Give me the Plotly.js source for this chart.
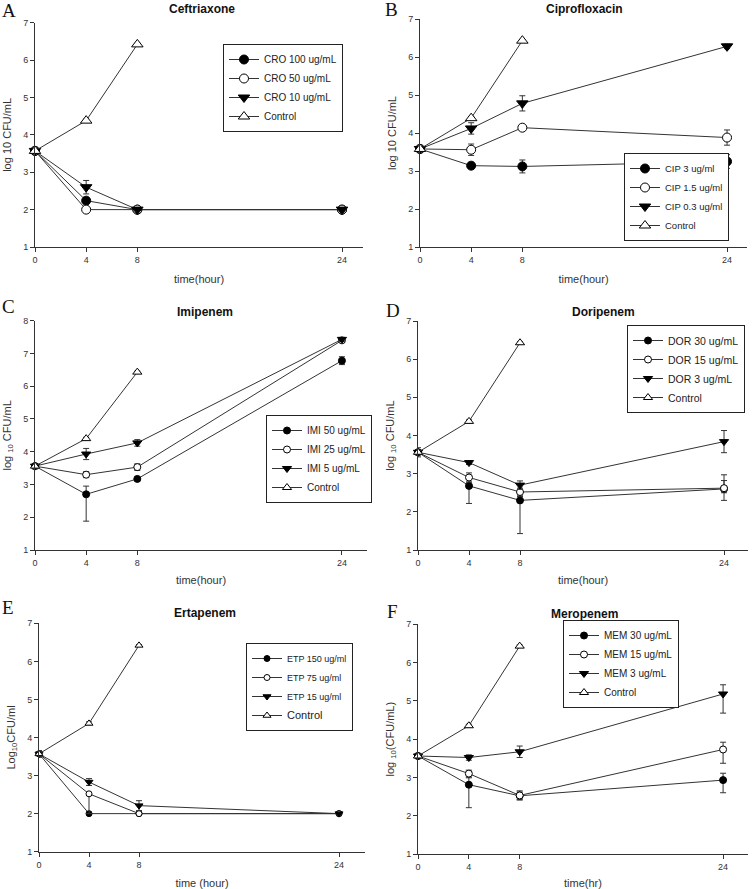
<!DOCTYPE html>
<html>
<head>
<meta charset="utf-8">
<script src="https://cdn.plot.ly/plotly-3.0.1.min.js"></script>
<style>html,body{margin:0;padding:0;background:#fff;}#chart{width:754px;height:889px;}</style>
</head>
<body>
<div id="chart"></div>
<script>
// ---------- data ----------
const timeDrug = [0, 4, 8, 24];
const timeCtrl = [0, 4, 8];
const xTicks = [0, 4, 8, 24];

// A: Ceftriaxone
const croNames = ['CRO 100 ug/mL', 'CRO 50 ug/mL', 'CRO 10 ug/mL', 'Control'];
const cro100 = [3.57, 2.24, 2.0, 2.0];
const cro100Err = [0.05, 0.08, 0, 0];
const cro50 = [3.57, 2.0, 2.0, 2.0];
const cro50Err = [0.05, 0, 0, 0];
const cro10 = [3.57, 2.60, 2.0, 2.0];
const cro10Err = [0.05, 0.18, 0, 0];
const ctrlA = [3.57, 4.38, 6.42];
const ctrlAErr = [0.05, 0.04, 0.03];

// B: Ciprofloxacin
const cipNames = ['CIP 3 ug/ml', 'CIP 1.5 ug/ml', 'CIP 0.3 ug/ml', 'Control'];
const cip3 = [3.58, 3.14, 3.12, 3.25];
const cip3Err = [0.05, 0.06, 0.17, 0.18];
const cip15 = [3.58, 3.56, 4.14, 3.88];
const cip15Err = [0.05, 0.15, 0.06, 0.2];
const cip03 = [3.58, 4.12, 4.78, 6.28];
const cip03Err = [0.05, 0.15, 0.2, 0.06];
const ctrlB = [3.58, 4.39, 6.43];
const ctrlBErr = [0.05, 0.04, 0.03];

// C: Imipenem
const imiNames = ['IMI 50 ug/mL', 'IMI 25 ug/mL', 'IMI 5 ug/mL', 'Control'];
const imi50 = [3.56, 2.70, 3.17, 6.78];
const imi50Plus = [0.05, 0.25, 0.05, 0.12];
const imi50Minus = [0.05, 0.82, 0.05, 0.12];
const imi25 = [3.56, 3.30, 3.53, 7.40];
const imi25Err = [0.05, 0.09, 0.1, 0.05];
const imi5 = [3.56, 3.93, 4.27, 7.43];
const imi5Err = [0.05, 0.17, 0.1, 0.06];
const ctrlC = [3.56, 4.40, 6.43];
const ctrlCErr = [0.05, 0.04, 0.03];

// D: Doripenem
const dorNames = ['DOR 30 ug/mL', 'DOR 15 ug/mL', 'DOR 3 ug/mL', 'Control'];
const dor30 = [3.56, 2.68, 2.30, 2.60];
const dor30Plus = [0.12, 0.1, 0.1, 0.22];
const dor30Minus = [0.12, 0.46, 0.87, 0.1];
const dor15 = [3.56, 2.90, 2.52, 2.62];
const dor15Plus = [0.05, 0.12, 0.1, 0.35];
const dor15Minus = [0.05, 0.12, 0.1, 0.32];
const dor3 = [3.56, 3.29, 2.70, 3.84];
const dor3Err = [0.05, 0.05, 0.11, 0.29];
const ctrlD = [3.56, 4.37, 6.43];
const ctrlDErr = [0.05, 0.04, 0.03];

// E: Ertapenem
const etpNames = ['ETP 150 ug/ml', 'ETP 75 ug/ml', 'ETP 15 ug/ml', 'Control'];
const etp150 = [3.57, 2.0, 2.0, 2.0];
const etp150Err = [0.08, 0, 0, 0];
const etp75 = [3.57, 2.52, 2.0, 2.0];
const etp75Plus = [0.08, 0, 0, 0];
const etp75Minus = [0.08, 0.52, 0, 0];
const etp15 = [3.57, 2.83, 2.21, 2.0];
const etp15Err = [0.08, 0.09, 0.13, 0];
const ctrlE = [3.57, 4.37, 6.42];
const ctrlEErr = [0.08, 0.04, 0.02];

// F: Meropenem
const memNames = ['MEM 30 ug/mL', 'MEM 15 ug/mL', 'MEM 3 ug/mL', 'Control'];
const mem30 = [3.56, 2.81, 2.52, 2.93];
const mem30Plus = [0.05, 0.18, 0.1, 0.18];
const mem30Minus = [0.05, 0.6, 0.1, 0.33];
const mem15 = [3.56, 3.10, 2.53, 3.73];
const mem15Plus = [0.05, 0.09, 0.12, 0.19];
const mem15Minus = [0.05, 0.09, 0.12, 0.36];
const mem3 = [3.56, 3.52, 3.67, 5.18];
const mem3Plus = [0.05, 0.07, 0.15, 0.24];
const mem3Minus = [0.05, 0.07, 0.15, 0.5];
const ctrlF = [3.56, 4.35, 6.43];
const ctrlFErr = [0.05, 0.04, 0.03];

const panelTitles = ['Ceftriaxone', 'Ciprofloxacin', 'Imipenem', 'Doripenem', 'Ertapenem', 'Meropenem'];
const panelLetters = ['A', 'B', 'C', 'D', 'E', 'F'];
const xTitles = ['time(hour)', 'time(hour)', 'time(hour)', 'time(hour)', 'time (hour)', 'time(hr)'];
const yTitles = ['log 10 CFU/mL', 'log 10 CFU/mL', 'log <sub>10</sub> CFU/mL', 'log <sub>10</sub> CFU/mL', 'Log<sub>10</sub>CFU/ml', 'log <sub>10</sub>(CFU/mL)'];

// ---------- layout geometry (pixels) ----------
const W = 754, H = 889;
const FONT = 'Liberation Sans, Arial, Helvetica, sans-serif';
const geo = [
  {x0: 35, x1: 363, ytop: 22.7, ybot: 247, xmax: 25.64, ymax: 7, msize: 9, leg: [223, 44], legFont: 10, title: [202, 9], letter: [9, 11], xstand: 11, ystand: 9},
  {x0: 420, x1: 747, ytop: 19, ybot: 247, xmax: 25.56, ymax: 7, msize: 9, leg: [624, 153], legFont: 9.5, title: [584, 9], letter: [391, 10], xstand: 11, ystand: 9},
  {x0: 35, x1: 367, ytop: 320.7, ybot: 550, xmax: 25.96, ymax: 8, msize: 7, leg: [266, 415], legFont: 10, title: [205, 312], letter: [8, 306], xstand: 9, ystand: 9},
  {x0: 418, x1: 748, ytop: 321, ybot: 550, xmax: 25.88, ymax: 7, msize: 7, leg: [627, 325], legFont: 10.5, title: [603, 312], letter: [393, 310], xstand: 9, ystand: 9},
  {x0: 39, x1: 365, ytop: 623.3, ybot: 851.7, xmax: 26.08, ymax: 7, msize: 6, leg: [246, 643], legFont: 9, title: [205, 613], letter: [8, 607], xstand: 10, ystand: 9},
  {x0: 418, x1: 748, ytop: 624.3, ybot: 854, xmax: 25.96, ymax: 7, msize: 7, leg: [563, 620], legFont: 10, title: [584, 614], letter: [392, 611], xstand: 8, ystand: 9}
];

const series = [
  {names: croNames, ys: [cro100, cro50, cro10, ctrlA], plus: [cro100Err, cro50Err, cro10Err, ctrlAErr], minus: [cro100Err, cro50Err, cro10Err, ctrlAErr]},
  {names: cipNames, ys: [cip3, cip15, cip03, ctrlB], plus: [cip3Err, cip15Err, cip03Err, ctrlBErr], minus: [cip3Err, cip15Err, cip03Err, ctrlBErr]},
  {names: imiNames, ys: [imi50, imi25, imi5, ctrlC], plus: [imi50Plus, imi25Err, imi5Err, ctrlCErr], minus: [imi50Minus, imi25Err, imi5Err, ctrlCErr]},
  {names: dorNames, ys: [dor30, dor15, dor3, ctrlD], plus: [dor30Plus, dor15Plus, dor3Err, ctrlDErr], minus: [dor30Minus, dor15Minus, dor3Err, ctrlDErr]},
  {names: etpNames, ys: [etp150, etp75, etp15, ctrlE], plus: [etp150Err, etp75Plus, etp15Err, ctrlEErr], minus: [etp150Err, etp75Minus, etp15Err, ctrlEErr]},
  {names: memNames, ys: [mem30, mem15, mem3, ctrlF], plus: [mem30Plus, mem15Plus, mem3Plus, ctrlFErr], minus: [mem30Minus, mem15Minus, mem3Minus, ctrlFErr]}
];

const styles = [
  {symbol: 'circle', color: '#000', line: '#000'},
  {symbol: 'circle', color: '#fff', line: '#000'},
  {symbol: 'triangle-down', color: '#000', line: '#000'},
  {symbol: 'triangle-up', color: '#fff', line: '#000'}
];

const traces = [];
const layout = {
  width: W, height: H,
  margin: {l: 0, r: 0, t: 0, b: 0},
  paper_bgcolor: '#fff', plot_bgcolor: '#fff',
  font: {family: FONT, color: '#222'},
  annotations: [],
  showlegend: true
};

geo.forEach((g, i) => {
  const n = i + 1;
  const xa = n === 1 ? 'x' : 'x' + n;
  const ya = n === 1 ? 'y' : 'y' + n;
  const xKey = n === 1 ? 'xaxis' : 'xaxis' + n;
  const yKey = n === 1 ? 'yaxis' : 'yaxis' + n;
  const legKey = n === 1 ? 'legend' : 'legend' + n;

  layout[xKey] = {
    domain: [g.x0 / W, g.x1 / W], anchor: ya, range: [0, g.xmax],
    tickvals: xTicks, ticktext: xTicks.map(String),
    showline: true, linecolor: '#333', linewidth: 1, showgrid: false, zeroline: false,
    ticks: 'outside', ticklen: 4, tickcolor: '#333', tickwidth: 1,
    tickfont: {family: FONT, size: 9, color: '#333'},
    title: {text: xTitles[i], font: {family: FONT, size: 11, color: '#333'}, standoff: g.xstand},
    fixedrange: true
  };
  layout[yKey] = {
    domain: [1 - g.ybot / H, 1 - g.ytop / H], anchor: xa, range: [1, g.ymax], dtick: 1,
    showline: true, linecolor: '#333', linewidth: 1, showgrid: false, zeroline: false,
    ticks: 'outside', ticklen: 4, tickcolor: '#333', tickwidth: 1,
    tickfont: {family: FONT, size: 9, color: '#333'},
    title: {text: yTitles[i], font: {family: FONT, size: 11, color: '#333'}, standoff: g.ystand},
    fixedrange: true
  };
  layout[legKey] = {
    x: g.leg[0] / W, y: 1 - g.leg[1] / H, xanchor: 'left', yanchor: 'top',
    xref: 'paper', yref: 'paper',
    bordercolor: '#222', borderwidth: 1, bgcolor: '#fff',
    font: {family: FONT, size: g.legFont, color: '#222'},
    itemwidth: 30, tracegroupgap: 0, traceorder: 'normal'
  };

  const s = series[i];
  s.ys.forEach((yv, k) => {
    const isCtrl = k === 3;
    const st = styles[k];
    let label = s.names[k];
    if (i === 4 && isCtrl) label = '<span style="font-size:11px">' + label + '</span>';
    traces.push({
      type: 'scatter', mode: 'lines+markers',
      name: label,
      x: isCtrl ? timeCtrl : timeDrug, y: yv,
      xaxis: xa, yaxis: ya, legend: legKey,
      cliponaxis: false,
      line: {color: '#333', width: 1},
      marker: {symbol: st.symbol, size: g.msize + (st.symbol.indexOf('triangle') === 0 ? 1 : 0), color: st.color, line: {color: st.line, width: 1}},
      error_y: {type: 'data', symmetric: false, array: s.plus[k], arrayminus: s.minus[k], color: '#333', thickness: 1, width: 3}
    });
  });

  layout.annotations.push({
    text: '<b>' + panelTitles[i] + '</b>', xref: 'paper', yref: 'paper',
    x: g.title[0] / W, y: 1 - g.title[1] / H, xanchor: 'center', yanchor: 'middle',
    showarrow: false, font: {family: FONT, size: 12, color: '#111'}
  });
  layout.annotations.push({
    text: panelLetters[i], xref: 'paper', yref: 'paper',
    x: g.letter[0] / W, y: 1 - g.letter[1] / H, xanchor: 'center', yanchor: 'middle',
    showarrow: false, font: {family: 'Liberation Serif, Times New Roman, serif', size: 19, color: '#111'}
  });
});

Plotly.newPlot('chart', traces, layout, {displayModeBar: false, staticPlot: true});
</script>
</body>
</html>
